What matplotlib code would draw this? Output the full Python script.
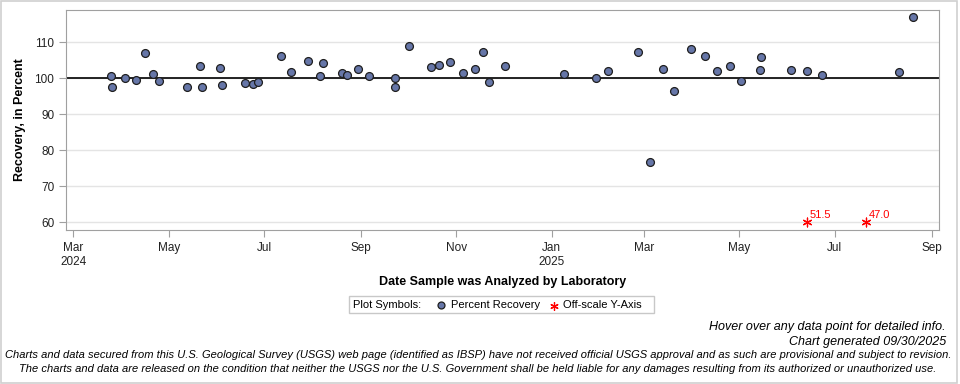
import numpy as np
import pandas as pd
import matplotlib
matplotlib.use('Agg')
import matplotlib.pyplot as plt
import matplotlib.dates as mdates
from matplotlib.lines import Line2D
from matplotlib.patches import Rectangle

plt.rcParams['font.family'] = ['Liberation Sans', 'DejaVu Sans']

# Percent recovery values
dates = ['2024-03-25', '2024-03-26', '2024-04-03', '2024-04-10', '2024-04-16',
         '2024-04-21', '2024-04-25', '2024-05-13', '2024-05-21', '2024-05-22',
         '2024-06-03', '2024-06-04', '2024-06-19', '2024-06-24', '2024-06-27',
         '2024-07-12', '2024-07-18', '2024-07-29', '2024-08-06', '2024-08-08',
         '2024-08-20', '2024-08-23', '2024-08-30', '2024-09-06', '2024-09-23',
         '2024-09-23', '2024-10-02', '2024-10-16', '2024-10-21', '2024-10-28',
         '2024-11-05', '2024-11-13', '2024-11-18', '2024-11-22', '2024-12-02',
         '2025-01-09', '2025-01-29', '2025-02-06', '2025-02-25', '2025-03-05',
         '2025-03-13', '2025-03-20', '2025-03-31', '2025-04-09', '2025-04-17',
         '2025-04-25', '2025-05-02', '2025-05-14', '2025-05-15', '2025-06-03',
         '2025-06-13', '2025-06-23', '2025-08-11', '2025-08-20']
recovery = [100.6, 97.5, 100.0, 99.4, 106.9,
            101.2, 99.2, 97.5, 103.3, 97.5,
            102.8, 98.1, 98.6, 98.3, 98.9,
            106.1, 101.7, 104.7, 100.6, 104.2,
            101.4, 100.8, 102.5, 100.6, 100.0,
            97.5, 108.9, 103.1, 103.6, 104.4,
            101.4, 102.5, 107.2, 98.9, 103.3,
            101.1, 100.0, 101.9, 107.2, 76.7,
            102.5, 96.4, 108.1, 106.1, 101.9,
            103.3, 99.2, 102.2, 105.8, 102.2,
            101.9, 100.8, 101.7, 116.9]

# Off-scale points (plotted at axis floor with their value as label)
offscale_dates = ['2025-06-13', '2025-07-21']
offscale_values = [51.5, 47.0]
offscale_floor = 60

yticks = [60, 70, 80, 90, 100, 110]

d = pd.to_datetime(dates)
od = pd.to_datetime(offscale_dates)

fig = plt.figure(figsize=(9.6, 3.84), dpi=100)
fig.patches.append(Rectangle((0.001, 0.002), 0.996, 0.996, transform=fig.transFigure,
                             fill=False, edgecolor='#d0d0d0', linewidth=1.2))
ax = fig.add_axes([66/960, 1 - 230/384, (939 - 66)/960, (230 - 9.5)/384])

ax.set_ylim(57.9, 119.1)
ax.set_xlim(pd.Timestamp('2024-02-25 08:00'), pd.Timestamp('2025-09-05 16:00'))
ax.set_yticks(yticks)
ax.grid(axis='y', color='#e4e4e4', linewidth=1)
ax.set_axisbelow(True)
ax.axhline(100, color='black', linewidth=1.2, zorder=2)

ax.scatter(d, recovery, s=32, facecolor='#6676a8', edgecolor='#1e1e1e', linewidth=0.9, zorder=3)
ax.scatter(od, [offscale_floor] * len(od), marker=(6, 2, 0), s=40, color='red', linewidth=0.9, zorder=3)
for x, v in zip(od, offscale_values):
    ax.annotate('%.1f' % v, (x, offscale_floor), xytext=(2, 3), textcoords='offset points',
                color='red', fontsize=8)

ax.xaxis.set_major_locator(mdates.MonthLocator(bymonth=[1, 3, 5, 7, 9, 11]))
def fmt(x, pos):
    dt = mdates.num2date(x)
    s = dt.strftime('%b')
    if dt.month == 1 or pos == 0:
        s += '\n' + dt.strftime('%Y')
    return s
ax.xaxis.set_major_formatter(plt.FuncFormatter(fmt))

for sp in ax.spines.values():
    sp.set_color('#a0a0a0')
ax.tick_params(colors='#a0a0a0', labelcolor='#222222', labelsize=8.5, length=5, direction='out')

ax.set_ylabel('Recovery, in Percent', fontsize=9, fontweight='bold', labelpad=6)
ax.set_xlabel('Date Sample was Analyzed by Laboratory', fontsize=9, fontweight='bold', labelpad=6)

# legend box, laid out by hand like the original
def fx(px):
    return px / 960
def fy(py):
    return 1 - py / 384
ly = 304.5
fig.patches.append(Rectangle((fx(349), fy(313)), fx(654) - fx(349), fy(296) - fy(313),
                             transform=fig.transFigure, fill=False, edgecolor='#c8c8c8', linewidth=1))
fig.text(fx(353), fy(ly), 'Plot Symbols:', ha='left', va='center', fontsize=8)
fig.add_artist(Line2D([fx(441)], [fy(ly)], transform=fig.transFigure, linestyle='none', marker='o',
                      markersize=5, markerfacecolor='#6676a8', markeredgecolor='#1e1e1e', markeredgewidth=0.9))
fig.text(fx(451), fy(ly), 'Percent Recovery', ha='left', va='center', fontsize=8)
fig.add_artist(Line2D([fx(554)], [fy(ly + 1)], transform=fig.transFigure, linestyle='none',
                      marker=(6, 2, 0), markersize=6, color='red', markeredgewidth=0.9))
fig.text(fx(563), fy(ly), 'Off-scale Y-Axis', ha='left', va='center', fontsize=8)

foot = dict(family=['Liberation Sans Narrow', 'Liberation Sans', 'DejaVu Sans'], style='italic')
fig.text(946/960, 1 - 327/384, 'Hover over any data point for detailed info.', ha='right', va='center',
         fontsize=9, **foot)
fig.text(946/960, 1 - 342/384, 'Chart generated 09/30/2025', ha='right', va='center', fontsize=9, **foot)
fig.text(478/960, 1 - 355.5/384, 'Charts and data secured from this U.S. Geological Survey (USGS) web page '
         '(identified as IBSP) have not received official USGS approval and as such are provisional '
         'and subject to revision.', ha='center', va='center', fontsize=8, **foot)
fig.text(478/960, 1 - 369/384, 'The charts and data are released on the condition that neither the USGS '
         'nor the U.S. Government shall be held liable for any damages resulting from its authorized '
         'or unauthorized use.', ha='center', va='center', fontsize=8, **foot)

fig.savefig('out.png', dpi=100)
